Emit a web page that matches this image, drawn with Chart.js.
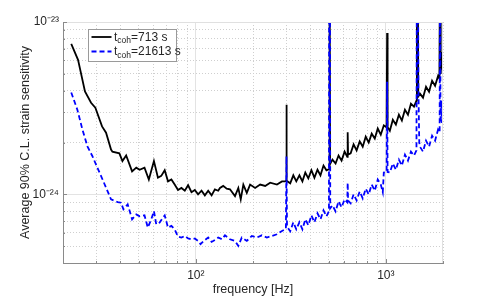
<!DOCTYPE html>
<html><head><meta charset="utf-8">
<script src="https://cdn.jsdelivr.net/npm/chart.js@4/dist/chart.umd.min.js"></script>
<style>html,body{margin:0;padding:0;background:#fff}#wrap{width:491px;height:297px}</style>
</head><body><div id="wrap"><canvas id="c" width="491" height="297"></canvas></div>
<script>
// ---------- data ----------
const blackFreq = [22.1,24.0,26.1,28.1,29.6,32.1,33.7,35.8,36.4,39.6,
  41.1,43.0,46.2,48.6,50.6,53.7,56.6,60.2,63.2,65.8,
  68.6,71.4,74.4,77.4,80.6,84.0,87.5,91.1,94.9,98.8,
  102.8,107.2,111.6,116.2,121.1,126.0,131.2,134.0,139.4,145.4,
  151.3,160.8,167.4,172.4,177.9,185.5,193.1,205.2,218.2,231.8,
  246.3,267.3,284.1,295.7,
  299,300,301,
  314,326,338,351,364,377,391,406,421,437,453,470,487,
  503,505,507,509,
  524,544,564,585,607,
  627,630,633,
  653,677,702,729,756,784,813,843,875,907,941,976,
  1010,1016,1022,
  1050,1089,1130,1172,1215,1261,1308,1356,1407,
  1450,1458,1472,1482,
  1513,1570,1628,1689,1752,1817,1884,
  1915,1930,1945,1960,1975,1990,2000];
const blackVal = [7.46e-24,6.03e-24,3.96e-24,3.40e-24,3.18e-24,2.48e-24,2.28e-24,1.82e-24,1.77e-24,1.73e-24,
  1.56e-24,1.68e-24,1.36e-24,1.43e-24,1.39e-24,1.43e-24,1.22e-24,1.56e-24,1.25e-24,1.28e-24,
  1.38e-24,1.19e-24,1.22e-24,1.14e-24,1.06e-24,1.09e-24,1.05e-24,1.13e-24,1.03e-24,1.06e-24,
  1.00e-24,1.05e-24,9.87e-25,1.05e-24,9.87e-25,1.07e-24,1.05e-24,1.09e-24,1.12e-24,1.08e-24,
  1.07e-24,9.77e-25,1.09e-24,9.36e-25,1.14e-24,1.02e-24,1.14e-24,1.09e-24,1.14e-24,1.12e-24,
  1.17e-24,1.14e-24,1.19e-24,1.19e-24,
  1.20e-24,3.31e-24,1.20e-24,
  1.16e-24,1.29e-24,1.19e-24,1.29e-24,1.19e-24,1.34e-24,1.24e-24,1.38e-24,1.25e-24,1.39e-24,1.29e-24,1.47e-24,1.38e-24,
  1.40e-24,3e-23,3e-23,1.50e-24,
  1.59e-24,1.51e-24,1.68e-24,1.57e-24,1.77e-24,
  1.65e-24,2.29e-24,1.70e-24,
  1.73e-24,1.95e-24,1.80e-24,2.03e-24,1.89e-24,2.16e-24,2.00e-24,2.25e-24,2.11e-24,2.41e-24,2.22e-24,2.51e-24,
  2.45e-24,8.64e-24,2.45e-24,
  2.34e-24,2.71e-24,2.54e-24,2.90e-24,2.68e-24,3.10e-24,2.90e-24,3.36e-24,3.23e-24,
  3.50e-24,3e-23,3e-23,3.70e-24,
  3.84e-24,3.64e-24,4.21e-24,3.94e-24,4.56e-24,4.27e-24,4.87e-24,
  4.70e-24,3e-23,5.00e-24,6.70e-24,5.30e-24,5.80e-24,5.00e-24];

const blueFreq = [22.1,23.8,25.3,26.9,28.6,32.3,35.8,38.8,40.4,41.6,
  43.8,46.2,48.6,50.6,53.7,55.9,58.3,60.2,61.9,64.5,
  67.1,68.6,71.4,74.4,77.4,80.6,84.0,87.5,91.1,94.9,
  98.8,102.8,105.9,110.2,116.2,121.1,127.6,131.2,137.3,142.4,
  151.3,160.8,167.4,174.5,185.5,197.1,209.6,222.6,236.6,251.4,
  267.3,284.1,295.7,
  298,300,302,
  314,326,338,351,364,377,391,406,421,437,453,470,487,
  502,504,508,510,
  524,544,564,585,607,
  627,630,633,
  653,677,702,729,756,784,813,843,875,907,941,964,976,
  1010,1016,1022,
  1050,1089,1130,1172,1215,1261,1308,1356,1407,
  1450,1458,1475,1485,1500,
  1513,1570,1628,1689,1752,1817,1884,
  1920,1930,1940,1960,1975,1990,2000];
const blueVal = [3.90e-24,3.10e-24,2.38e-24,1.90e-24,1.66e-24,1.22e-24,9.36e-25,9.03e-25,8.95e-25,8.19e-25,
  8.76e-25,7.17e-25,7.66e-25,7.46e-25,7.56e-25,6.42e-25,7.17e-25,8.00e-25,6.71e-25,6.86e-25,
  7.33e-25,7.56e-25,6.42e-25,6.56e-25,6.27e-25,5.69e-25,5.62e-25,5.74e-25,5.55e-25,5.49e-25,
  5.55e-25,5.37e-25,5.14e-25,5.37e-25,5.62e-25,5.30e-25,5.49e-25,5.62e-25,5.49e-25,5.79e-25,
  5.49e-25,5.37e-25,5.03e-25,5.62e-25,5.37e-25,5.74e-25,5.62e-25,5.79e-25,5.62e-25,5.74e-25,
  5.87e-25,6.14e-25,6.27e-25,
  6.30e-25,1.66e-24,6.50e-25,
  6.11e-25,6.89e-25,6.27e-25,6.89e-25,6.27e-25,7.17e-25,6.62e-25,7.56e-25,6.89e-25,7.77e-25,7.17e-25,8.08e-25,7.46e-25,
  8.00e-25,3e-23,3e-23,8.30e-25,
  8.64e-25,7.97e-25,9.11e-25,8.41e-25,9.36e-25,
  9.00e-25,1.17e-24,9.20e-25,
  8.87e-25,1.00e-24,9.23e-25,1.04e-24,9.48e-25,1.08e-24,1.00e-24,1.14e-24,1.05e-24,1.22e-24,1.14e-24,1.03e-24,1.34e-24,
  1.35e-24,4.50e-24,1.35e-24,
  1.34e-24,1.51e-24,1.39e-24,1.59e-24,1.47e-24,1.70e-24,1.57e-24,1.77e-24,1.68e-24,
  1.80e-24,3e-23,3e-23,4.00e-24,2.00e-24,
  1.89e-24,1.77e-24,2.05e-24,1.89e-24,2.19e-24,2.05e-24,2.38e-24,
  2.30e-24,3e-23,2.60e-24,3.50e-24,2.60e-24,2.80e-24,2.44e-24];

const seriesLabels = ['t_coh=713 s', 't_coh=21613 s'];
const xGridValues = [20,30,40,50,60,70,80,90,100,200,300,400,500,600,700,800,900,1000,2000];
const yGridValues = [4e-25,5e-25,6e-25,7e-25,8e-25,9e-25,1e-24,2e-24,3e-24,4e-24,5e-24,6e-24,7e-24,8e-24,9e-24,1e-23];
const xTickValues = [100, 1000];
const xTickText = ['10\u00B2', '10\u00B3'];
const yTickValues = [1e-24, 1e-23];
const yTickText = ['10\u207B\u00B2\u2074', '10\u207B\u00B2\u00B3'];
const xTitle = 'frequency [Hz]';
const yTitle = 'Average 90% C.L. strain sensitivity';

// ---------- chart ----------
const FONT = '"Liberation Sans", Arial, Helvetica, sans-serif';
const TXT = '#262626';
const isMajorX = v => xTickValues.includes(v);
const isMajorY = v => yTickValues.includes(v);

const extras = {
  id: 'extras',
  afterDatasetsDraw(chart) {
    const c = chart.ctx, a = chart.chartArea;
    c.save();
    c.strokeStyle = '#e0e0e0'; c.lineWidth = 1; c.setLineDash([]);
    c.beginPath(); c.moveTo(a.left, a.top + 0.5); c.lineTo(a.right, a.top + 0.5);
    c.moveTo(a.right - 0.5, a.top); c.lineTo(a.right - 0.5, a.bottom); c.stroke();
    c.strokeStyle = '#8a8a8a';
    c.beginPath();
    chart.scales.x.ticks.forEach(t => {
      const px = Math.round(chart.scales.x.getPixelForValue(t.value)) + 0.5;
      const len = isMajorX(t.value) ? 4 : 2;
      c.moveTo(px, a.bottom); c.lineTo(px, a.bottom - len);
    });
    chart.scales.y.ticks.forEach(t => {
      const py = Math.round(chart.scales.y.getPixelForValue(t.value)) + 0.5;
      const len = isMajorY(t.value) ? 4 : 2;
      c.moveTo(a.left, py); c.lineTo(a.left + len, py);
    });
    c.stroke();
    // legend
    const L = a.left + 25.5, T = a.top + 7.5, W = 88, H = 32;
    c.fillStyle = '#fff'; c.fillRect(L, T, W, H);
    c.strokeStyle = '#9a9a9a'; c.strokeRect(L, T, W, H);
    const ds = chart.data.datasets;
    [1, 0].forEach((di, row) => {
      const d = ds[di];
      const yl = T + 7.5 + row * 14.5;
      c.strokeStyle = d.borderColor; c.lineWidth = d.borderWidth;
      c.setLineDash(d.borderDash || []);
      c.beginPath(); c.moveTo(L + 3, yl); c.lineTo(L + 23, yl); c.stroke();
      c.setLineDash([]);
      const m = /^(.*?)_(\w+)(.*)$/.exec(d.label);
      let x = L + 25.5;
      const base = yl + 3.8;
      c.fillStyle = TXT; c.textBaseline = 'alphabetic'; c.textAlign = 'left';
      c.font = '12px ' + FONT; c.fillText(m[1], x, base); x += c.measureText(m[1]).width;
      c.font = '8.5px ' + FONT; c.fillText(m[2], x, base + 2.5); x += c.measureText(m[2]).width;
      c.font = '12px ' + FONT; c.fillText(m[3], x, base);
    });
    c.restore();
  }
};

new Chart(document.getElementById('c'), {
  type: 'line',
  data: {
    datasets: [
      { label: seriesLabels[1], data: blueFreq.map((f, i) => ({x: f, y: blueVal[i]})),
        borderColor: '#0000ff', borderWidth: 1.8, borderDash: [5, 3], pointRadius: 0,
        fill: false, tension: 0, clip: 0 },
      { label: seriesLabels[0], data: blackFreq.map((f, i) => ({x: f, y: blackVal[i]})),
        borderColor: '#000000', borderWidth: 1.8, pointRadius: 0,
        fill: false, tension: 0, clip: 0 }
    ]
  },
  options: {
    responsive: false, animation: false, devicePixelRatio: 1,
    layout: { padding: { left: 0, right: 48, top: 22, bottom: 0 } },
    plugins: { legend: { display: false }, tooltip: { enabled: false } },
    scales: {
      x: {
        type: 'logarithmic', min: 20, max: 2000,
        afterBuildTicks: s => { s.ticks = xGridValues.map(v => ({ value: v })); },
        afterFit: s => { s.height = 34; },
        ticks: { autoSkip: false, maxRotation: 0, minRotation: 0, padding: 5, color: TXT,
          font: { family: FONT, size: 12 },
          callback: v => { const i = xTickValues.indexOf(v); return i >= 0 ? xTickText[i] : ''; } },
        grid: { drawTicks: false, lineWidth: 1,
          color: c => (c.tick && isMajorX(c.tick.value)) ? '#e3e3e3' : '#cfcfcf' },
        border: { display: true, color: '#8a8a8a', width: 1,
          dash: c => (c.tick && isMajorX(c.tick.value)) ? [] : [1, 2] },
        title: { display: true, text: xTitle, color: TXT, font: { family: FONT, size: 12.5 },
          padding: { top: 0, bottom: 0 } }
      },
      y: {
        type: 'logarithmic', min: 4e-25, max: 1e-23,
        afterBuildTicks: s => { s.ticks = yGridValues.map(v => ({ value: v })); },
        afterFit: s => { s.width = 63; },
        ticks: { autoSkip: false, padding: 4, color: TXT,
          font: { family: FONT, size: 12 },
          callback: v => { const i = yTickValues.indexOf(v); return i >= 0 ? yTickText[i] : ''; } },
        grid: { drawTicks: false, lineWidth: 1,
          color: c => (c.tick && isMajorY(c.tick.value)) ? '#e3e3e3' : '#cfcfcf' },
        border: { display: true, color: '#8a8a8a', width: 1,
          dash: c => (c.tick && isMajorY(c.tick.value)) ? [] : [1, 2] },
        title: { display: true, text: yTitle, color: TXT, font: { family: FONT, size: 12.5 },
          padding: { top: 18.5, bottom: 0 } }
      }
    }
  },
  plugins: [extras]
});
</script></body></html>
